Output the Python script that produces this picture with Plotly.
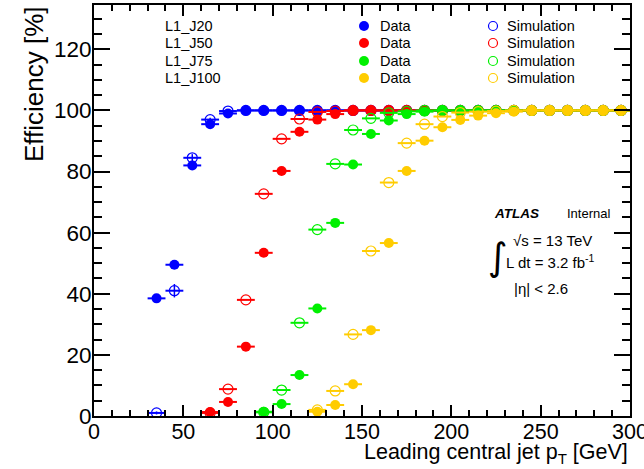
import plotly.graph_objects as go

# ---------------- data ----------------
pt_bins = [35, 45, 55, 65, 75, 85, 95, 105, 115, 125, 135, 145, 155, 165, 175,
           185, 195, 205, 215, 225, 235, 245, 255, 265, 275, 285, 295]
bin_half_width = 5

j20_data = [38.5, 49.5, 82.0, 95.5, 99.0, 100, 100, 100, 100, 100, 100, 100, 100, 100, 100,
            100, 100, 100, 100, 100, 100, 100, 100, 100, 100, 100, 100]
j20_sim = [1.0, 41.0, 84.5, 97.0, 99.8, 100, 100, 100, 100, 100, 100, 100, 100, 100, 100,
           100, 100, 100, 100, 100, 100, 100, 100, 100, 100, 100, 100]
j20_sim_err = [0.5, 2.2, 1.2, 0.6, 0.3, 0, 0, 0, 0, 0, 0, 0, 0, 0, 0,
               0, 0, 0, 0, 0, 0, 0, 0, 0, 0, 0, 0]

j50_pt = [65, 75, 85, 95, 105, 115, 125, 135, 145, 155, 165, 175,
          185, 195, 205, 215, 225, 235, 245, 255, 265, 275, 285, 295]
j50_data = [1.3, 4.6, 22.7, 53.4, 80.2, 93.0, 97.0, 98.8, 100, 100, 100, 100,
            100, 100, 100, 100, 100, 100, 100, 100, 100, 100, 100, 100]
j50_sim = [1.0, 8.8, 38.0, 72.7, 90.7, 97.2, 99.5, 99.8, 100, 100, 100, 100,
           100, 100, 100, 100, 100, 100, 100, 100, 100, 100, 100, 100]

j75_pt = [95, 105, 115, 125, 135, 145, 155, 165, 175,
          185, 195, 205, 215, 225, 235, 245, 255, 265, 275, 285, 295]
j75_data = [1.4, 3.9, 13.4, 35.2, 63.2, 82.3, 92.3, 96.7, 98.8,
            99.6, 100, 100, 100, 100, 100, 100, 100, 100, 100, 100, 100]
j75_sim = [1.2, 8.5, 30.5, 61.0, 82.5, 93.6, 97.4, 99.2, 99.7,
           100, 100, 100, 100, 100, 100, 100, 100, 100, 100, 100, 100]

j100_pt = [125, 135, 145, 155, 165, 175, 185, 195, 205, 215, 225, 235,
           245, 255, 265, 275, 285, 295]
j100_data = [1.4, 3.6, 10.4, 28.1, 56.6, 80.2, 90.1, 94.5, 96.9, 98.3, 99.1, 99.6,
             100, 100, 100, 100, 100, 100]
j100_sim = [2.0, 8.2, 26.7, 54.0, 76.4, 89.3, 95.5, 98.0, 99.3, 99.6, 99.8, 100,
            100, 100, 100, 100, 100, 100]

trigger_names = ["L1_J20", "L1_J50", "L1_J75", "L1_J100"]
colors = ["#0000ff", "#ff0000", "#00f000", "#ffcc00"]

x_ticks = [0, 50, 100, 150, 200, 250, 300]
y_ticks = [0, 20, 40, 60, 80, 100, 120]

# ---------------- figure ----------------
FONT = "Liberation Sans, Arial, Helvetica, sans-serif"
fig = go.Figure()

series = [
    (pt_bins, j20_data, j20_sim, j20_sim_err),
    (j50_pt, j50_data, j50_sim, None),
    (j75_pt, j75_data, j75_sim, None),
    (j100_pt, j100_data, j100_sim, None),
]

for (xs, dat, sim, simerr), col, name in zip(series, colors, trigger_names):
    ey = dict(type="data", array=simerr, width=0, thickness=1.5, color=col) if simerr else None
    fig.add_trace(go.Scatter(
        x=xs, y=sim, mode="markers", name=name + " Simulation",
        marker=dict(symbol="circle-open", size=10, color=col, line=dict(width=1.2, color=col)),
        error_x=dict(type="constant", value=bin_half_width, width=0, thickness=2, color=col),
        error_y=ey, showlegend=False,
    ))
    fig.add_trace(go.Scatter(
        x=xs, y=dat, mode="markers", name=name + " Data",
        marker=dict(symbol="circle", size=10, color=col, line=dict(width=0)),
        error_x=dict(type="constant", value=bin_half_width, width=0, thickness=2, color=col),
        showlegend=False,
    ))

L, R, T, B = 94, 14, 5, 53
W, H = 644, 469
pw, ph = W - L - R, H - T - B


def px(xp):
    return (xp - L) / pw


def py(yp):
    return (H - B - yp) / ph


annotations = []
shapes = []
rows_y = [26, 43, 61, 78]
for name, col, ry in zip(trigger_names, colors, rows_y):
    annotations.append(dict(text=name, x=px(163), y=py(ry), xref="paper", yref="paper",
                            xanchor="left", yanchor="middle", showarrow=False,
                            font=dict(family=FONT, size=14.5, color="black")))
    annotations.append(dict(text="Data", x=px(378), y=py(ry), xref="paper", yref="paper",
                            xanchor="left", yanchor="middle", showarrow=False,
                            font=dict(family=FONT, size=14.5, color="black")))
    annotations.append(dict(text="Simulation", x=px(505), y=py(ry), xref="paper", yref="paper",
                            xanchor="left", yanchor="middle", showarrow=False,
                            font=dict(family=FONT, size=14.5, color="black")))
    # legend symbols
    shapes.append(dict(type="circle", xref="paper", yref="paper",
                       xsizemode="pixel", ysizemode="pixel",
                       xanchor=px(364), yanchor=py(ry),
                       x0=-5, x1=5, y0=-5, y1=5, fillcolor=col, line=dict(width=0)))
    shapes.append(dict(type="circle", xref="paper", yref="paper",
                       xsizemode="pixel", ysizemode="pixel",
                       xanchor=px(493), yanchor=py(ry),
                       x0=-4.5, x1=4.5, y0=-4.5, y1=4.5, line=dict(width=1.2, color=col)))

# ATLAS label
annotations += [
    dict(text="<b><i>ATLAS</i></b>", x=px(492), y=py(213), xref="paper", yref="paper",
         xanchor="left", yanchor="middle", showarrow=False,
         font=dict(family=FONT, size=13.5, color="black")),
    dict(text="Internal", x=px(565), y=py(213), xref="paper", yref="paper",
         xanchor="left", yanchor="middle", showarrow=False,
         font=dict(family=FONT, size=13, color="black")),
    dict(text="√s = 13 TeV", x=px(511), y=py(240), xref="paper", yref="paper",
         xanchor="left", yanchor="middle", showarrow=False,
         font=dict(family=FONT, size=15, color="black")),
    dict(text="∫", x=px(498), y=py(257), xref="paper", yref="paper",
         xanchor="center", yanchor="middle", showarrow=False,
         font=dict(family="DejaVu Sans", size=38, color="black")),
    dict(text="L dt = 3.2 fb<sup>-1</sup>", x=px(504), y=py(261), xref="paper", yref="paper",
         xanchor="left", yanchor="middle", showarrow=False,
         font=dict(family=FONT, size=15, color="black")),
    dict(text="|η| < 2.6", x=px(512), y=py(288), xref="paper", yref="paper",
         xanchor="left", yanchor="middle", showarrow=False,
         font=dict(family=FONT, size=15, color="black")),
    # axis titles
    dict(text="Leading central jet p<sub>T</sub> [GeV]", x=px(630), y=py(453),
         xref="paper", yref="paper", xanchor="right", yanchor="middle", showarrow=False,
         font=dict(family=FONT, size=21.5, color="black")),
    dict(text="Efficiency [%]", x=px(34), y=py(84), xref="paper", yref="paper",
         xanchor="center", yanchor="middle", textangle=-90, showarrow=False,
         font=dict(family=FONT, size=26, color="black")),
]

fig.update_layout(
    width=W, height=H,
    margin=dict(l=L, r=R, t=T, b=B, pad=0, autoexpand=False),
    paper_bgcolor="white", plot_bgcolor="white",
    showlegend=False,
    annotations=annotations,
    shapes=shapes,
    font=dict(family=FONT, color="black"),
)

fig.update_xaxes(
    range=[0, 300], tickvals=x_ticks, ticktext=[str(v) for v in x_ticks],
    ticks="inside", ticklen=11, tickwidth=1.5, tickcolor="black",
    minor=dict(dtick=10, ticks="inside", ticklen=6, tickwidth=1.5, tickcolor="black"),
    showline=True, linecolor="black", linewidth=2, mirror="allticks",
    showgrid=False, zeroline=False, automargin=False,
    tickfont=dict(family=FONT, size=21.5, color="black"),
    ticklabelstandoff=-5, ticklabeloverflow="allow",
)
fig.update_yaxes(
    range=[0, 134.5], tickvals=y_ticks, ticktext=[str(v) for v in y_ticks],
    ticks="inside", ticklen=16, tickwidth=1.5, tickcolor="black",
    minor=dict(dtick=5, ticks="inside", ticklen=8, tickwidth=1.5, tickcolor="black"),
    showline=True, linecolor="black", linewidth=2, mirror="allticks",
    showgrid=False, zeroline=False, automargin=False,
    tickfont=dict(family=FONT, size=22.5, color="black"),
    ticklabelstandoff=-4, ticklabeloverflow="allow",
)

fig.write_html("out.html")
